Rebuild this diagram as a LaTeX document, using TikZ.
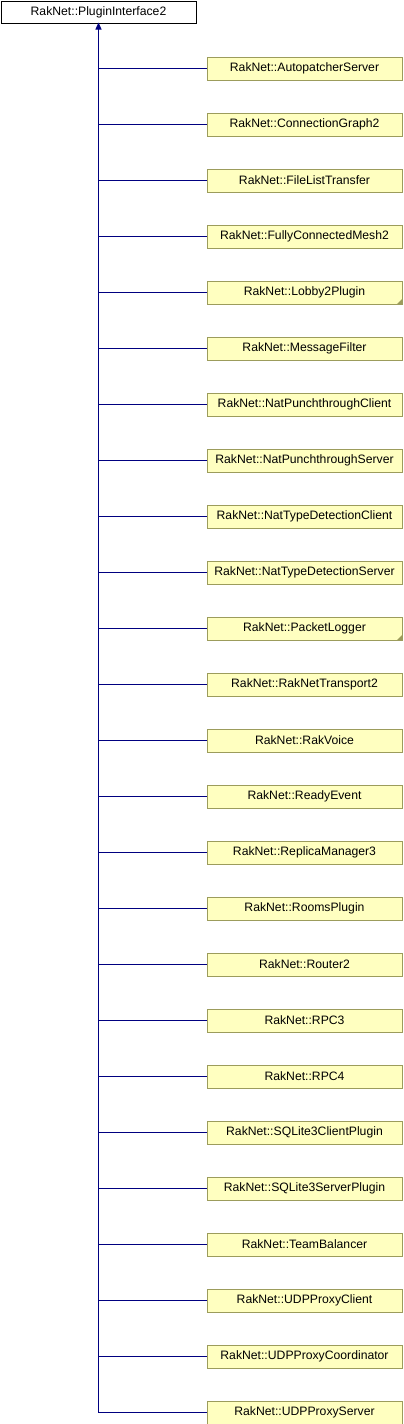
\documentclass[tikz,border=0pt]{standalone}
\usepackage{fontspec}
\setmainfont{Liberation Sans}
\usetikzlibrary{arrows.meta}
\definecolor{boxfill}{HTML}{FFFFC0}
\definecolor{boxline}{HTML}{9C9C5C}
\definecolor{edgecol}{HTML}{000080}
\tikzset{
  base/.style={draw=black, fill=white, line width=1pt, minimum width=195pt, minimum height=22pt, inner sep=0pt, font=\fontsize{12.2}{14}\selectfont},
  cls/.style={draw=boxline, fill=boxfill, line width=1pt, minimum width=195pt, minimum height=23pt, inner sep=0pt, font=\fontsize{12.2}{14}\selectfont},
  edge/.style={draw=edgecol, line width=1pt},
  more/.style={fill=boxline},
}
\begin{document}
\begin{tikzpicture}[x=1pt,y=-1pt]
\useasboundingbox (0,0) rectangle (404,1424);
\node[base] (top) at (98.5,12) {RakNet::PluginInterface2};
\foreach \name [count=\i] in {AutopatcherServer,ConnectionGraph2,FileListTransfer,FullyConnectedMesh2,Lobby2Plugin,MessageFilter,NatPunchthroughClient,NatPunchthroughServer,NatTypeDetectionClient,NatTypeDetectionServer,PacketLogger,RakNetTransport2,RakVoice,ReadyEvent,ReplicaManager3,RoomsPlugin,Router2,RPC3,RPC4,SQLite3ClientPlugin,SQLite3ServerPlugin,TeamBalancer,UDPProxyClient,UDPProxyCoordinator,UDPProxyServer}{
  \node[cls] (c\i) at (304.5,{68.5+56*(\i-1)}) {RakNet::\name};
  \draw[edge] (c\i.west) -- (c\i.west -| top.south);
}
\foreach \i in {5,11}{
  \fill[more] ([shift={(-0.5,-0.5)}]c\i.south east) -- ++(-5,0) -- ++(5,-5) -- cycle;
}
\draw[edge, -{Triangle[length=7pt,width=6pt]}] (c25.west -| top.south) -- ([yshift=1pt]top.south);
\end{tikzpicture}
\end{document}
